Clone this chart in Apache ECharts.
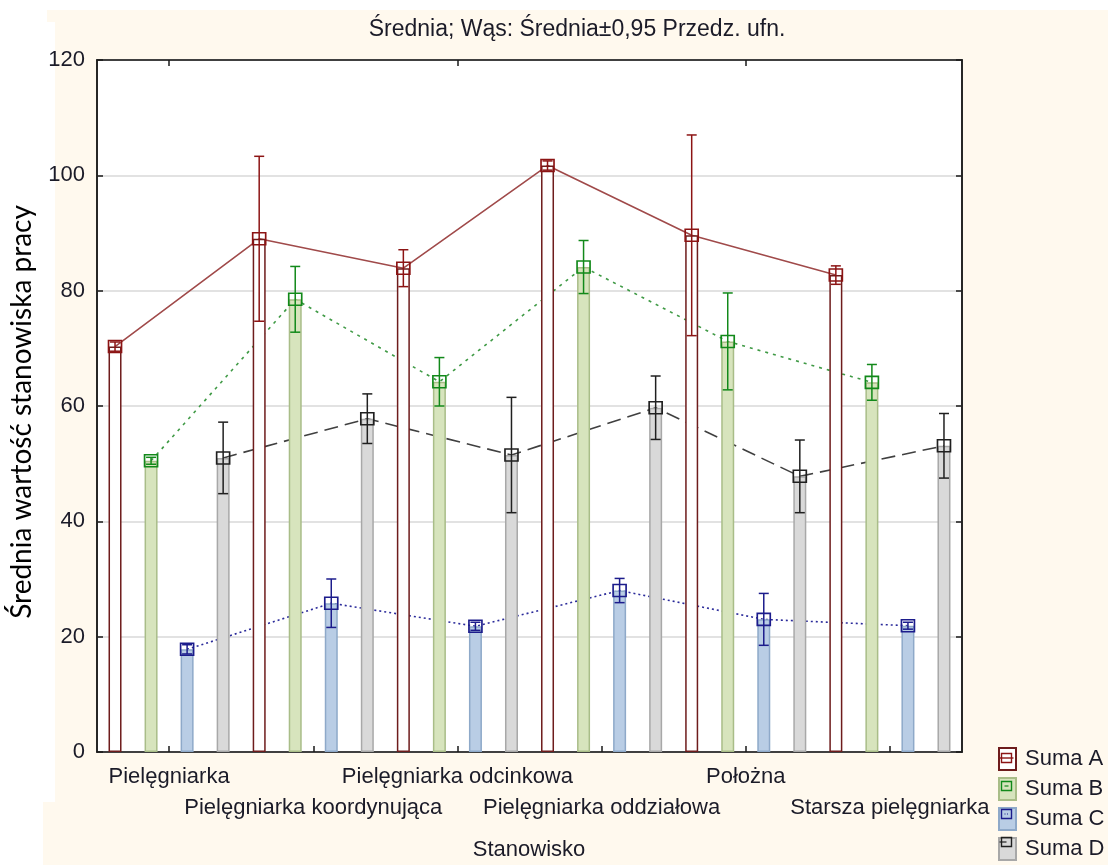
<!DOCTYPE html>
<html>
<head>
<meta charset="utf-8">
<style>
  html, body { margin: 0; padding: 0; background: #ffffff; }
  #chart { width: 1108px; height: 865px; }
</style>
<script src="https://cdn.jsdelivr.net/npm/echarts@6/dist/echarts.min.js"></script>
</head>
<body>
<div id="chart"></div>
<script>
// Stanowiska (grupy na osi X)
const categories = ['Pielęgniarka', 'Pielęgniarka koordynująca', 'Pielęgniarka odcinkowa',
                    'Pielęgniarka oddziałowa', 'Położna', 'Starsza pielęgniarka'];
const seriesNames = ['Suma A', 'Suma B', 'Suma C', 'Suma D'];
const yTicks = [0, 20, 40, 60, 80, 100, 120];

// Średnie oraz połowa szerokości przedziału ufności 0,95
const meanA = [70.3, 89.0, 83.9, 101.7, 89.6, 82.7];
const ciA   = [0.8, 14.3, 3.2, 0.8, 17.4, 1.6];
const meanB = [50.5, 78.5, 64.2, 84.1, 71.2, 64.1];
const ciB   = [0.6, 5.7, 4.2, 4.6, 8.4, 3.1];
const meanC = [17.8, 25.8, 21.8, 28.0, 23.0, 21.9];
const ciC   = [0.8, 4.2, 0.7, 2.1, 4.5, 0.6];
const meanD = [51.0, 57.8, 51.5, 59.7, 47.8, 53.1];
const ciD   = [6.2, 4.3, 10.0, 5.5, 6.3, 5.6];

const means = [meanA, meanB, meanC, meanD];
const cis = [ciA, ciB, ciC, ciD];

// Wygląd poszczególnych serii
const styles = [
  { fill: '#ffffff', border: '#6e1c1c', mark: '#8c1414', line: '#a04a4a', type: 'solid' },
  { fill: '#d7e4bd', border: '#a9bd88', mark: '#12891a', line: '#3f9a45', type: [3, 5] },
  { fill: '#b9cde5', border: '#8ea9c9', mark: '#1c1c8c', line: '#2a2a9a', type: [2, 3] },
  { fill: '#d9d9d9', border: '#a8a8a8', mark: '#202020', line: '#404040', type: [14, 7] }
];

const nSeries = seriesNames.length;
const nSlots = categories.length * nSeries;
const slots = Array.from({ length: nSlots }, (_, i) => String(i));
const slotOf = (g, k) => g * nSeries + k;

function spread(k, fn) {
  const arr = new Array(nSlots).fill('-');
  categories.forEach((_, g) => { arr[slotOf(g, k)] = fn(g); });
  return arr;
}

const TXT = '#1b1b28';
const FONT = '"Liberation Sans", Arial, sans-serif';

const series = [];
// słupki
seriesNames.forEach((name, k) => {
  series.push({
    name: name, type: 'bar', xAxisIndex: 0, yAxisIndex: 0,
    barWidth: 13, barGap: '-100%', z: 2, silent: true,
    itemStyle: { color: styles[k].fill, borderColor: styles[k].border, borderWidth: 1.5 },
    data: spread(k, g => means[k][g])
  });
});
// linie łączące średnie
seriesNames.forEach((name, k) => {
  series.push({
    name: name + ' linia', type: 'line', xAxisIndex: 0, yAxisIndex: 0,
    z: 1, silent: true, symbol: 'none', connectNulls: true,
    lineStyle: { color: styles[k].line, width: 1.6, type: styles[k].type },
    data: spread(k, g => means[k][g])
  });
});
// wąsy (przedział ufności)
seriesNames.forEach((name, k) => {
  const color = styles[k].mark;
  series.push({
    name: name + ' wąs', type: 'custom', xAxisIndex: 0, yAxisIndex: 0,
    z: 3, silent: true,
    encode: { x: 0, y: [1, 2] },
    data: categories.map((_, g) => [slotOf(g, k), means[k][g] - cis[k][g], means[k][g] + cis[k][g]]),
    renderItem: function (params, api) {
      const x = api.value(0);
      const lo = api.coord([x, api.value(1)]);
      const hi = api.coord([x, api.value(2)]);
      const w = 5;
      const st = { stroke: color, lineWidth: 1.5 };
      return {
        type: 'group',
        children: [
          { type: 'line', shape: { x1: lo[0], y1: lo[1], x2: hi[0], y2: hi[1] }, style: st },
          { type: 'line', shape: { x1: lo[0] - w, y1: lo[1], x2: lo[0] + w, y2: lo[1] }, style: st },
          { type: 'line', shape: { x1: hi[0] - w, y1: hi[1], x2: hi[0] + w, y2: hi[1] }, style: st }
        ]
      };
    }
  });
});
// znaczniki średnich
seriesNames.forEach((name, k) => {
  series.push({
    name: name + ' średnia', type: 'scatter', xAxisIndex: 0, yAxisIndex: 0,
    z: 4, silent: true, symbol: 'rect', symbolSize: [13, 12],
    itemStyle: { color: 'rgba(0,0,0,0)', borderColor: styles[k].mark, borderWidth: 1.6, opacity: 1 },
    data: categories.map((_, g) => [slotOf(g, k), means[k][g]])
  });
});

// Legenda: ramki ikon rysuje komponent legend, a małe znaczniki w ich środku - grafika
const LEG_LEFT = 998, LEG_TOP = 747, LEG_W = 17, LEG_H = 22, LEG_GAP = 6;
const legendMarks = [];
seriesNames.forEach((_, k) => {
  const cx = LEG_LEFT + LEG_W / 2, cy = LEG_TOP + LEG_H / 2 + k * (LEG_H + LEG_GAP);
  const c = styles[k].mark;
  legendMarks.push({ type: 'rect', z: 200, zlevel: 1, shape: { x: cx - 5, y: cy - 4.5, width: 10, height: 9 },
                     style: { fill: 'none', stroke: c, lineWidth: 1.4 } });
  if (k === 0) {
    legendMarks.push({ type: 'line', z: 200, zlevel: 1, shape: { x1: cx - 7, y1: cy, x2: cx + 7, y2: cy },
                       style: { stroke: c, lineWidth: 1.4 } });
  } else if (k === 3) {
    legendMarks.push({ type: 'line', z: 200, zlevel: 1, shape: { x1: cx - 7, y1: cy, x2: cx, y2: cy },
                       style: { stroke: c, lineWidth: 1.2 } });
  } else {
    legendMarks.push({ type: 'line', z: 200, zlevel: 1, shape: { x1: cx - 2, y1: cy, x2: cx + 2, y2: cy },
                       style: { stroke: c, lineWidth: 1.2, lineDash: k === 2 ? [1, 1.5] : null } });
  }
});

const chart = echarts.init(document.getElementById('chart'), null, { renderer: 'canvas' });
chart.setOption({
  animation: false,
  backgroundColor: '#ffffff',
  textStyle: { fontFamily: FONT },
  graphic: [
    { type: 'rect', z: -100, shape: { x: 47, y: 10, width: 1061, height: 12 }, style: { fill: '#fff9ee' } },
    { type: 'rect', z: -100, shape: { x: 55, y: 22, width: 1053, height: 780 }, style: { fill: '#fff9ee' } },
    { type: 'rect', z: -100, shape: { x: 43, y: 802, width: 1065, height: 63 }, style: { fill: '#fff9ee' } },
    { type: 'text', z: 100, x: 577, y: 30,
      style: { text: 'Średnia; Wąs: Średnia±0,95 Przedz. ufn.', font: '23px ' + FONT, fill: TXT,
               textAlign: 'center', textVerticalAlign: 'middle' } },
    { type: 'text', z: 100, x: 529, y: 850,
      style: { text: 'Stanowisko', font: '22px ' + FONT, fill: TXT,
               textAlign: 'center', textVerticalAlign: 'middle' } },
    { type: 'text', z: 100, x: 22, y: 412, rotation: Math.PI / 2,
      style: { text: 'Średnia wartość stanowiska pracy', font: '28px Lato, "Open Sans", sans-serif', fill: '#000000',
               textAlign: 'center', textVerticalAlign: 'middle' } }
  ].concat(legendMarks),
  grid: {
    left: 97, right: 146, top: 60, bottom: 113,
    show: true, backgroundColor: '#ffffff', borderColor: '#1a1a1a', borderWidth: 1.5
  },
  legend: {
    data: seriesNames, orient: 'vertical', left: LEG_LEFT, top: LEG_TOP, padding: 0,
    itemWidth: LEG_W, itemHeight: LEG_H, itemGap: LEG_GAP, icon: 'rect', selectedMode: false,
    textStyle: { fontSize: 22, lineHeight: 22, color: TXT, fontFamily: FONT, padding: [0, 0, 0, 4] }
  },
  xAxis: [
    { type: 'category', data: slots, show: false, boundaryGap: true, position: 'bottom' },
    {
      type: 'category', data: categories, position: 'bottom', boundaryGap: true,
      axisLine: { show: true, lineStyle: { color: '#1a1a1a', width: 1.5 } },
      axisTick: { show: true, inside: true, alignWithLabel: true, length: 6, lineStyle: { color: '#1a1a1a', width: 1.5 } },
      axisLabel: {
        interval: 0, hideOverlap: false, margin: 9, fontSize: 22, lineHeight: 31, color: TXT, fontFamily: FONT,
        formatter: (v, i) => (i % 2 ? '\n' + v : v)
      },
      splitLine: { show: false }
    },
    {
      type: 'category', data: categories, position: 'top', boundaryGap: true,
      axisLine: { show: true, lineStyle: { color: '#1a1a1a', width: 1.5 } },
      axisTick: { show: true, inside: true, alignWithLabel: true, length: 6, lineStyle: { color: '#1a1a1a', width: 1.5 } },
      axisLabel: { show: false },
      splitLine: { show: false }
    }
  ],
  yAxis: [
    {
      type: 'value', min: yTicks[0], max: yTicks[yTicks.length - 1], interval: 20, position: 'left',
      axisLine: { show: true, lineStyle: { color: '#1a1a1a', width: 1.5 } },
      axisTick: { show: true, inside: true, length: 6, lineStyle: { color: '#1a1a1a', width: 1.5 } },
      axisLabel: { fontSize: 22, color: TXT, margin: 12, fontFamily: FONT },
      splitLine: { show: true, lineStyle: { color: '#d9d9d9', width: 1.5 } }
    },
    {
      type: 'value', min: yTicks[0], max: yTicks[yTicks.length - 1], interval: 20, position: 'right',
      axisLine: { show: true, lineStyle: { color: '#1a1a1a', width: 1.5 } },
      axisTick: { show: true, inside: true, length: 6, lineStyle: { color: '#1a1a1a', width: 1.5 } },
      axisLabel: { show: false },
      splitLine: { show: false }
    }
  ],
  series: series
});
</script>
</body>
</html>
